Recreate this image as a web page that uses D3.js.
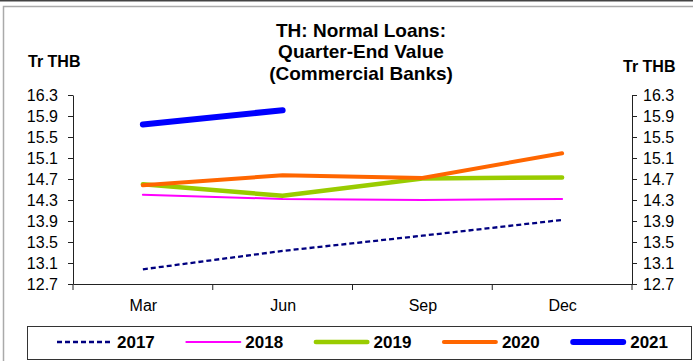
<!DOCTYPE html>
<html>
<head>
<meta charset="utf-8">
<script src="https://cdn.jsdelivr.net/npm/d3@7"></script>
<style>
  body { margin: 0; background: #fff; }
  svg { display: block; font-family: "Liberation Sans", Arial, sans-serif; }
</style>
</head>
<body>
<div id="vis"></div>
<script>

var months = ["Mar", "Jun", "Sep", "Dec"];
var yTicks = [12.7, 13.1, 13.5, 13.9, 14.3, 14.7, 15.1, 15.5, 15.9, 16.3];
var titleLines = ["TH: Normal Loans:", "Quarter-End Value", "(Commercial Banks)"];

var v2017 = [12.98, 13.33, 13.62, 13.92];
var v2018 = [14.40, 14.32, 14.30, 14.32];
var v2019 = [14.60, 14.38, 14.71, 14.73];
var v2020 = [14.58, 14.77, 14.72, 15.19];
var v2021 = [15.74, 16.01];

var seriesList = [
  { name: "2017", values: v2017, color: "#000080", width: 2.3, dash: "5,3", cap: "butt" },
  { name: "2018", values: v2018, color: "#ff00ff", width: 2, dash: null, cap: "round" },
  { name: "2019", values: v2019, color: "#99cc00", width: 4.5, dash: null, cap: "round" },
  { name: "2020", values: v2020, color: "#ff6600", width: 4, dash: null, cap: "round" },
  { name: "2021", values: v2021, color: "#0000ff", width: 6, dash: null, cap: "round" }
];

var width = 693, height = 361;
var plotLeft = 73, plotRight = 632, plotTop = 95, plotBottom = 284;

var svg = d3.select('#vis').append('svg')
  .attr('width', width)
  .attr('height', height);

// frame bits from the cropped original
svg.append('line')
  .attr('x1', 0).attr('x2', width).attr('y1', 0.5).attr('y2', 0.5)
  .attr('stroke', '#444').attr('stroke-width', 2);
svg.append('rect')
  .attr('x', 3.5).attr('y', 6.5)
  .attr('width', width + 10).attr('height', height + 10)
  .attr('fill', 'none').attr('stroke', '#aaa').attr('stroke-width', 1.5);

var x = d3.scalePoint().domain(months).range([plotLeft, plotRight]).padding(0.5);
var y = d3.scaleLinear().domain([12.7, 16.3]).range([plotBottom, plotTop]);

// title
svg.append('text')
  .attr('text-anchor', 'middle')
  .attr('font-size', 19)
  .attr('font-weight', 'bold')
  .selectAll('tspan')
  .data(titleLines)
  .enter().append('tspan')
  .attr('x', 361)
  .attr('y', function (d, i) { return 36.5 + i * 21.5; })
  .text(function (d) { return d; });

svg.append('text')
  .attr('x', 28).attr('y', 67)
  .attr('font-size', 16).attr('font-weight', 'bold')
  .text('Tr THB');
svg.append('text')
  .attr('x', 623).attr('y', 72)
  .attr('font-size', 16).attr('font-weight', 'bold')
  .text('Tr THB');

// y axes
var yLeft = svg.append('g')
  .attr('transform', 'translate(' + plotLeft + ',0)')
  .call(d3.axisLeft(y).tickValues(yTicks).tickFormat(d3.format('.1f'))
    .tickSize(5).tickSizeOuter(0).tickPadding(10));

var yRight = svg.append('g')
  .attr('transform', 'translate(' + plotRight + ',0)')
  .call(d3.axisRight(y).tickValues(yTicks).tickFormat(d3.format('.1f'))
    .tickSize(5).tickSizeOuter(0).tickPadding(6));

// x axis: labels at points, ticks at category boundaries
var xAxisG = svg.append('g')
  .attr('transform', 'translate(0,' + plotBottom + ')')
  .call(d3.axisBottom(x).tickSize(0).tickSizeOuter(0).tickPadding(16));

var bounds = months.map(function (m) { return x(m) - x.step() / 2; });
bounds.push(x(months[months.length - 1]) + x.step() / 2);
xAxisG.selectAll('.bound')
  .data(bounds)
  .enter().append('line')
  .attr('class', 'bound')
  .attr('x1', function (d) { return d; })
  .attr('x2', function (d) { return d; })
  .attr('y1', 0).attr('y2', 6)
  .attr('stroke', '#222');

[yLeft, yRight, xAxisG].forEach(function (g) {
  g.selectAll('text').attr('font-size', 16).attr('fill', '#000')
    .attr('font-family', '"Liberation Sans", Arial, sans-serif');
  g.selectAll('path, line').attr('stroke', '#222');
});

// lines
var line = d3.line()
  .x(function (d, i) { return x(months[i]); })
  .y(function (d) { return y(d); });

svg.selectAll('.series')
  .data(seriesList)
  .enter().append('path')
  .attr('class', 'series')
  .attr('d', function (d) { return line(d.values); })
  .attr('fill', 'none')
  .attr('stroke', function (d) { return d.color; })
  .attr('stroke-width', function (d) { return d.width; })
  .attr('stroke-dasharray', function (d) { return d.dash; })
  .attr('stroke-linecap', function (d) { return d.cap; })
  .attr('stroke-linejoin', 'round');

// legend
svg.append('rect')
  .attr('x', 27.5).attr('y', 326.5)
  .attr('width', 664).attr('height', 33)
  .attr('fill', '#fff').attr('stroke', '#333').attr('stroke-width', 1);

var legendItems = svg.selectAll('.legend')
  .data(seriesList)
  .enter().append('g')
  .attr('class', 'legend')
  .attr('transform', function (d, i) { return 'translate(' + (57 + i * 128.3) + ',342)'; });

legendItems.append('line')
  .attr('x1', function (d) { return d.cap === 'round' ? d.width / 2 : 0; })
  .attr('x2', function (d) { return 56 - (d.cap === 'round' ? d.width / 2 : 0); })
  .attr('y1', 0).attr('y2', 0)
  .attr('stroke', function (d) { return d.color; })
  .attr('stroke-width', function (d) { return d.width; })
  .attr('stroke-dasharray', function (d) { return d.dash; })
  .attr('stroke-linecap', function (d) { return d.cap; });

legendItems.append('text')
  .attr('x', 60).attr('y', 6)
  .attr('font-size', 17).attr('font-weight', 'bold')
  .text(function (d) { return d.name; });

</script>
</body>
</html>
